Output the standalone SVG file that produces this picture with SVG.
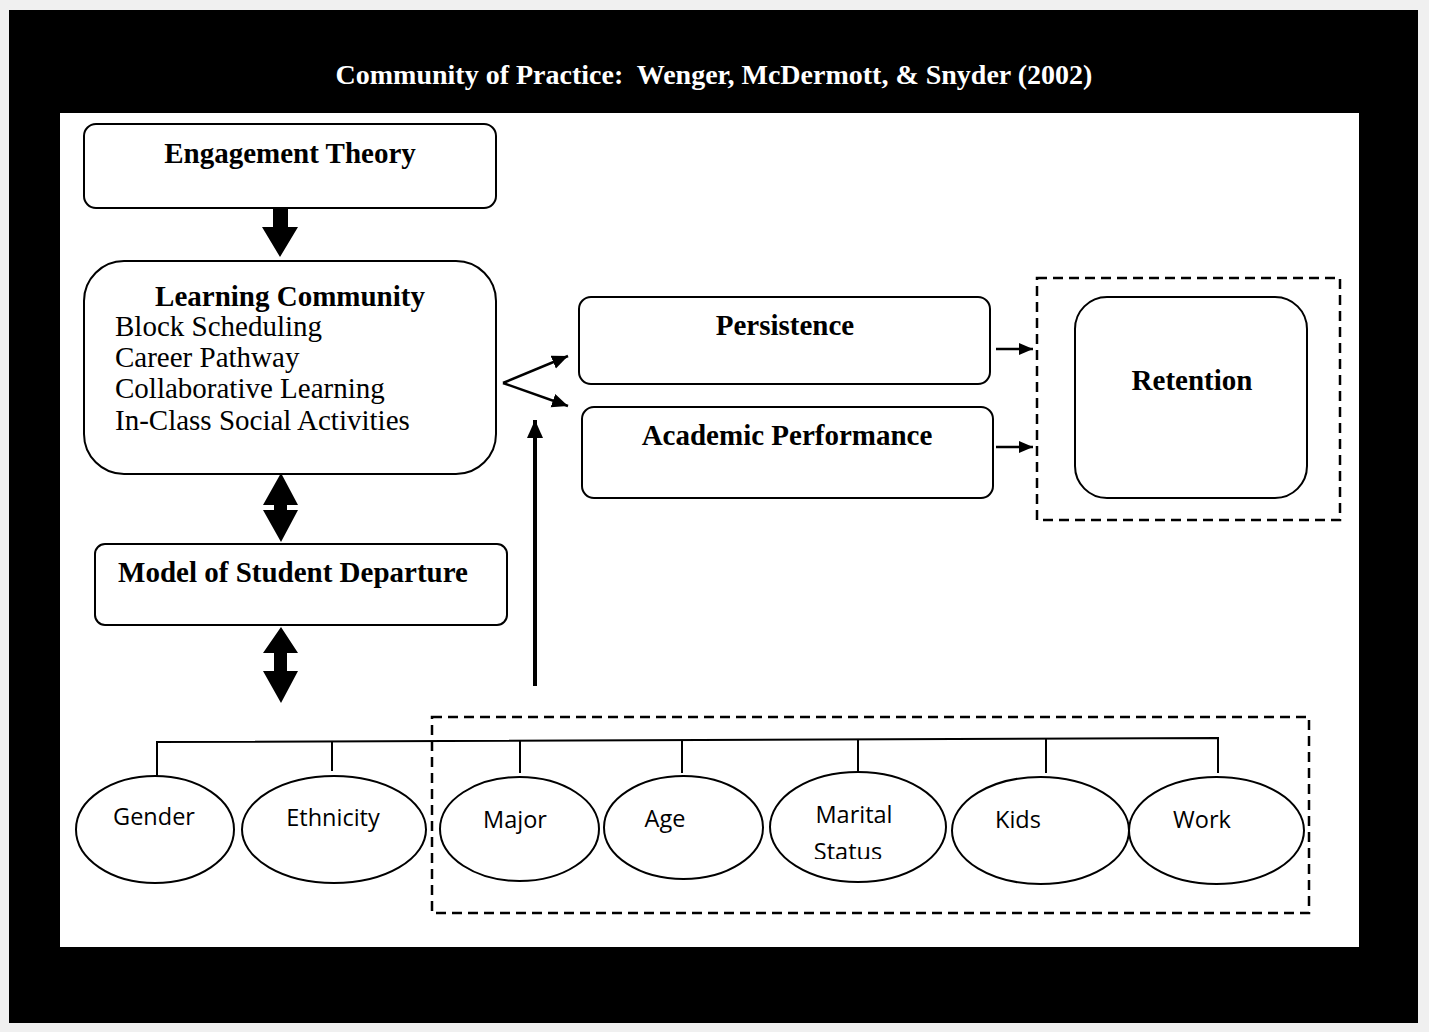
<svg xmlns="http://www.w3.org/2000/svg" width="1429" height="1032" viewBox="0 0 1429 1032">
<style>
.box{fill:#fff;stroke:#000;stroke-width:2}
.dash{fill:none;stroke:#000;stroke-width:2.5;stroke-dasharray:10 6}
.tb{font-family:"Liberation Serif","Times New Roman",serif;font-weight:bold;font-size:29px;fill:#000;text-anchor:middle}
.tr{font-family:"Liberation Serif","Times New Roman",serif;font-size:29px;fill:#000}
.ov{font-family:"Open Sans","Liberation Sans",sans-serif;font-size:23.5px;fill:#000;text-anchor:middle}
.ln{stroke:#000;stroke-width:2;fill:none}
.ar{stroke:#000;stroke-width:2.5;fill:none}
</style>
<defs>
<marker id="ah" markerUnits="userSpaceOnUse" markerWidth="18" markerHeight="16" refX="16" refY="7" orient="auto"><path d="M0,0 L16,7 L0,14 Z" fill="#000"/></marker>
<marker id="ahs" markerUnits="userSpaceOnUse" markerWidth="14" markerHeight="12" refX="14" refY="6" orient="auto"><path d="M0,0 L14,6 L0,12 Z" fill="#000"/></marker>
<marker id="ahv" markerUnits="userSpaceOnUse" markerWidth="20" markerHeight="16" refX="18" refY="8" orient="auto"><path d="M0,0 L18,8 L0,16 Z" fill="#000"/></marker>
<clipPath id="msclip"><rect x="770" y="772" width="180" height="87"/></clipPath>
</defs>
<rect x="0" y="0" width="1429" height="1032" fill="#f0f0f0"/>
<rect x="9" y="10" width="1409" height="1013" fill="#000"/>
<rect x="60" y="113" width="1299" height="834" fill="#fff"/>
<text x="714" y="84" class="tb" style="fill:#fff;font-size:28px;white-space:pre">Community of Practice:  Wenger, McDermott, &amp; Snyder (2002)</text>

<g id="engagement-theory">
<rect class="box" x="84" y="124" width="412" height="84" rx="12"/>
<text class="tb" x="290" y="163">Engagement Theory</text>
</g>

<g id="learning-community">
<rect class="box" x="84" y="261" width="412" height="213" rx="40"/>
<text class="tb" x="290" y="306">Learning Community</text>
<text class="tr" x="115" y="336">Block Scheduling</text>
<text class="tr" x="115" y="367">Career Pathway</text>
<text class="tr" x="115" y="398">Collaborative Learning</text>
<text class="tr" x="115" y="430">In-Class Social Activities</text>
</g>

<g id="model-student-departure">
<rect class="box" x="95" y="544" width="412" height="81" rx="10"/>
<text class="tb" x="293" y="582">Model of Student Departure</text>
</g>

<g id="persistence">
<rect class="box" x="579" y="297" width="411" height="87" rx="12"/>
<text class="tb" x="785" y="335">Persistence</text>
</g>

<g id="academic-performance">
<rect class="box" x="582" y="407" width="411" height="91" rx="12"/>
<text class="tb" x="787" y="445">Academic Performance</text>
</g>

<g id="retention-group">
<rect class="dash" x="1037" y="278" width="303" height="242"/>
</g>
<g id="retention">
<rect class="box" x="1075" y="297" width="232" height="201" rx="32"/>
<text class="tb" x="1192" y="390">Retention</text>
</g>

<g id="factors-group">
<rect class="dash" x="432" y="717" width="877" height="196"/>
</g>

<g id="gender"><ellipse class="box" cx="155" cy="829.5" rx="79" ry="53.5"/><text class="ov" x="154" y="825">Gender</text></g>
<g id="ethnicity"><ellipse class="box" cx="334" cy="829.5" rx="92" ry="53.5"/><text class="ov" x="333" y="826">Ethnicity</text></g>
<g id="major"><ellipse class="box" cx="519.5" cy="829" rx="79.5" ry="52"/><text class="ov" x="515" y="828">Major</text></g>
<g id="age"><ellipse class="box" cx="683.5" cy="827.5" rx="79.5" ry="51.5"/><text class="ov" x="665" y="827">Age</text></g>
<g id="marital-status"><ellipse class="box" cx="858" cy="827" rx="88" ry="55"/><g clip-path="url(#msclip)"><text class="ov" x="854" y="823">Marital</text><text class="ov" x="848" y="860">Status</text></g></g>
<g id="kids"><ellipse class="box" cx="1040.5" cy="830.5" rx="88.5" ry="53.5"/><text class="ov" x="1018" y="828">Kids</text></g>
<g id="work"><ellipse class="box" cx="1216.5" cy="830.5" rx="87.5" ry="53.5"/><text class="ov" x="1202" y="828">Work</text></g>

<g id="connectors">
<polygon points="273,208 288,208 288,227 298,227 280,257 262,227 273,227" fill="#000"/>
<polygon points="281,473 298,505 287,505 287,510 298,510 281,542 263,510 274,510 274,505 263,505" fill="#000"/>
<polygon points="281,627 298,653 287,653 287,671 298,671 281,703 263,671 274,671 274,653 263,653" fill="#000"/>
<line class="ar" x1="503" y1="383" x2="568" y2="356" marker-end="url(#ah)"/>
<line class="ar" x1="503" y1="383" x2="568" y2="406" marker-end="url(#ah)"/>
<line class="ar" x1="535" y1="686" x2="535" y2="420" style="stroke-width:4" marker-end="url(#ahv)"/>
<line class="ar" x1="996" y1="349" x2="1033" y2="349" marker-end="url(#ahs)"/>
<line class="ar" x1="996" y1="447" x2="1033" y2="447" marker-end="url(#ahs)"/>
<path class="ln" d="M157,776 L157,742 L1218,738 L1218,773"/>
<line class="ln" x1="332" y1="741" x2="332" y2="771"/>
<line class="ln" x1="520" y1="741" x2="520" y2="773"/>
<line class="ln" x1="682" y1="740" x2="682" y2="773"/>
<line class="ln" x1="858" y1="739" x2="858" y2="772"/>
<line class="ln" x1="1046" y1="738" x2="1046" y2="773"/>
</g>
</svg>
